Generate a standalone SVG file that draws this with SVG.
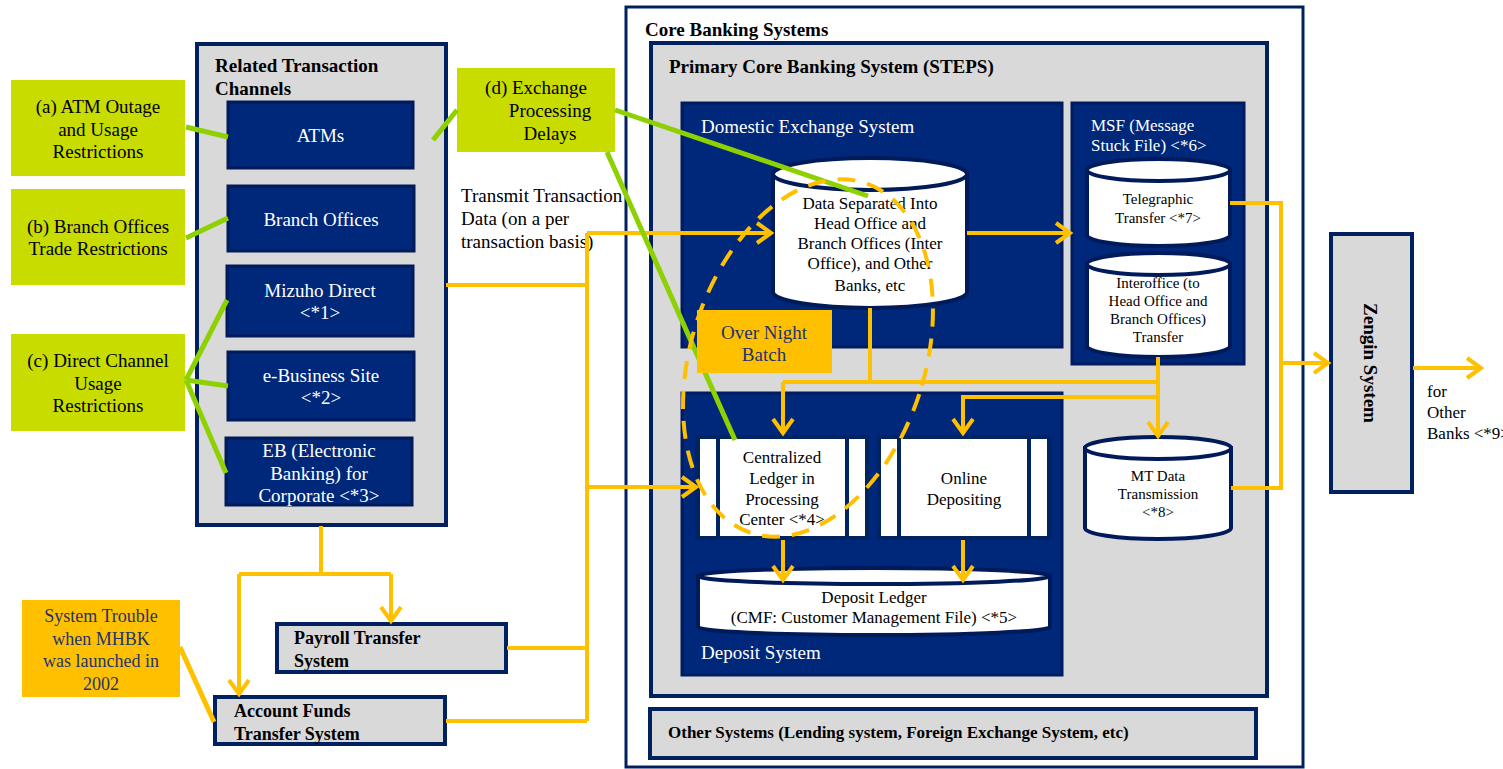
<svg xmlns="http://www.w3.org/2000/svg" width="1503" height="769" viewBox="0 0 1503 769">
<defs>
<style>
text{font-family:"Liberation Serif","Times New Roman",serif;}
.w{fill:#fff;}
.k{fill:#000;}
.nv{fill:#1f3470;}
.b{font-weight:bold;}
.f19{font-size:19px;}
.f18{font-size:18px;}
.f17{font-size:17px;}
.f16{font-size:16px;}
.f15{font-size:15px;}
.m{text-anchor:middle;}
.gbox{fill:#d9d9d9;stroke:#002060;stroke-width:4;}
.nbox{fill:#00287a;stroke:#001a5a;stroke-width:3;}
.dbox{fill:#00287a;stroke:#001c5e;stroke-width:3;}
.call{fill:#c8dc00;}
.obox{fill:#ffc000;}
.cyl{fill:#fff;stroke:#001a5a;stroke-width:4;}
.frame{fill:#00245f;}
.or{fill:none;stroke:#ffc000;stroke-width:4;}
.arr{marker-end:url(#ah);}
.gr{fill:none;stroke:#8dd100;stroke-width:5;}
</style>
<marker id="ah" markerUnits="userSpaceOnUse" viewBox="-18 -13 22 26" refX="0" refY="0" markerWidth="22" markerHeight="26" orient="auto" overflow="visible">
<path d="M-14,-10 L0,0 L-14,10" fill="none" stroke="#ffc000" stroke-width="4"/>
</marker>
</defs>
<rect width="1503" height="769" fill="#fff"/>

<!-- Core Banking Systems -->
<g id="core-banking">
<rect x="626" y="7" width="677" height="760" fill="#fff" stroke="#002060" stroke-width="3"/>
<text x="645" y="36" class="k b f19">Core Banking Systems</text>
</g>
<g id="primary-steps">
<rect x="651" y="43" width="616" height="653" class="gbox"/>
<text x="669" y="73" class="k b f19">Primary Core Banking System (STEPS)</text>
</g>
<g id="domestic-exchange">
<rect x="682" y="103" width="380" height="244" class="dbox"/>
<text x="701" y="133" class="w f19">Domestic Exchange System</text>
</g>
<g id="msf">
<rect x="1072" y="103" width="172" height="261" class="dbox"/>
<text x="1091" y="131" class="w f17">MSF (Message</text>
<text x="1091" y="151" class="w f17">Stuck File) &lt;*6&gt;</text>
</g>
<g id="deposit-system">
<rect x="682" y="393" width="380" height="282" class="dbox"/>
<text x="701" y="659" class="w f19">Deposit System</text>
</g>
<g id="other-systems">
<rect x="650" y="709" width="606" height="49" class="gbox"/>
<text x="668" y="738" class="k b f17">Other Systems (Lending system, Foreign Exchange System, etc)</text>
</g>

<!-- Related Transaction Channels -->
<g id="channels">
<rect x="197" y="44" width="249" height="481" class="gbox"/>
<text x="215" y="72" class="k b f19">Related Transaction</text>
<text x="215" y="95" class="k b f19">Channels</text>
</g>
<g id="atms">
<rect x="228" y="102" width="185" height="66" class="nbox"/>
<text x="320.5" y="142" class="w f19 m">ATMs</text>
</g>
<g id="branch-offices">
<rect x="228" y="186" width="186" height="65" class="nbox"/>
<text x="321" y="226" class="w f19 m">Branch Offices</text>
</g>
<g id="mizuho-direct">
<rect x="227" y="266" width="186" height="70" class="nbox"/>
<text x="320" y="297" class="w f19 m">Mizuho Direct</text>
<text x="320" y="319" class="w f19 m">&lt;*1&gt;</text>
</g>
<g id="e-business">
<rect x="228" y="352" width="186" height="68" class="nbox"/>
<text x="321" y="382" class="w f19 m">e-Business Site</text>
<text x="321" y="404" class="w f19 m">&lt;*2&gt;</text>
</g>
<g id="eb">
<rect x="226" y="438" width="186" height="67" class="nbox"/>
<text x="319" y="457" class="w f19 m">EB (Electronic</text>
<text x="319" y="480" class="w f19 m">Banking) for</text>
<text x="319" y="502" class="w f19 m">Corporate &lt;*3&gt;</text>
</g>

<!-- Payroll / Account Funds -->
<g id="payroll">
<rect x="277" y="624" width="229" height="48" class="gbox"/>
<text x="294" y="644" class="k b f18">Payroll Transfer</text>
<text x="294" y="667" class="k b f18">System</text>
</g>
<g id="account-funds">
<rect x="215" y="697" width="230" height="47" class="gbox"/>
<text x="234" y="717" class="k b f18">Account Funds</text>
<text x="234" y="740" class="k b f18">Transfer System</text>
</g>

<!-- Zengin -->
<g id="zengin">
<rect x="1331" y="234" width="81" height="258" class="gbox"/>
<text transform="translate(1370,363) rotate(90)" dy="6" class="k b f19 m">Zengin System</text>
</g>
<g id="other-banks-label">
<text x="1427" y="397" class="k f17">for</text>
<text x="1427" y="418" class="k f17">Other</text>
<text x="1427" y="439" class="k f17">Banks &lt;*9&gt;</text>
</g>

<!-- Cylinders -->
<g id="data-separated">
<path d="M773,174 V292 A97,16 0 0 0 967,292 V174 Z" class="cyl"/>
<ellipse cx="870" cy="174" rx="97" ry="16" class="cyl"/>
<text x="870" y="209" class="k f17 m">Data Separated Into</text>
<text x="870" y="229" class="k f17 m">Head Office and</text>
<text x="870" y="249" class="k f17 m">Branch Offices (Inter</text>
<text x="870" y="269" class="k f17 m">Office), and Other</text>
<text x="870" y="291" class="k f17 m">Banks, etc</text>
</g>
<g id="telegraphic">
<path d="M1087,170 V235 A71.5,11 0 0 0 1230,235 V170 Z" class="cyl"/>
<ellipse cx="1158.5" cy="170" rx="71.5" ry="11" class="cyl"/>
<text x="1158" y="204" class="k f15 m">Telegraphic</text>
<text x="1158" y="223" class="k f15 m">Transfer &lt;*7&gt;</text>
</g>
<g id="interoffice">
<path d="M1087,264 V346 A71.5,11 0 0 0 1230,346 V264 Z" class="cyl"/>
<ellipse cx="1158.5" cy="264" rx="71.5" ry="11" class="cyl"/>
<text x="1158" y="288" class="k f15 m">Interoffice (to</text>
<text x="1158" y="306" class="k f15 m">Head Office and</text>
<text x="1158" y="324" class="k f15 m">Branch Offices)</text>
<text x="1158" y="342" class="k f15 m">Transfer</text>
</g>
<g id="mt-data">
<path d="M1085,448 V528 A73,11 0 0 0 1231,528 V448 Z" class="cyl"/>
<ellipse cx="1158" cy="448" rx="73" ry="11" class="cyl"/>
<text x="1158" y="481" class="k f15 m">MT Data</text>
<text x="1158" y="499" class="k f15 m">Transmission</text>
<text x="1158" y="517" class="k f15 m">&lt;*8&gt;</text>
</g>
<g id="deposit-ledger">
<path d="M698,576 V627 A176,8 0 0 0 1050,627 V576 Z" class="cyl"/>
<ellipse cx="874" cy="576" rx="176" ry="8" class="cyl"/>
<text x="874" y="603" class="k f17 m">Deposit Ledger</text>
<text x="874" y="623" class="k f17 m">(CMF: Customer Management File) &lt;*5&gt;</text>
</g>

<!-- Ledger boxes -->
<g id="centralized-ledger">
<rect x="695" y="435" width="174" height="105" class="frame"/>
<rect x="700" y="439" width="16" height="97" fill="#fff"/>
<rect x="720" y="439" width="125" height="97" fill="#fff"/>
<rect x="849" y="439" width="16" height="97" fill="#fff"/>
<text x="782" y="463" class="k f17 m">Centralized</text>
<text x="782" y="484" class="k f17 m">Ledger in</text>
<text x="782" y="505" class="k f17 m">Processing</text>
<text x="782" y="525" class="k f17 m">Center &lt;*4&gt;</text>
</g>
<g id="online-depositing">
<rect x="877" y="435" width="175" height="105" class="frame"/>
<rect x="881" y="439" width="16" height="97" fill="#fff"/>
<rect x="901" y="439" width="126" height="97" fill="#fff"/>
<rect x="1031" y="439" width="16" height="97" fill="#fff"/>
<text x="964" y="484" class="k f17 m">Online</text>
<text x="964" y="505" class="k f17 m">Depositing</text>
</g>

<!-- Callouts -->
<g id="callout-a">
<rect x="11" y="80" width="174" height="96" class="call"/>
<text x="98" y="113" class="k f19 m">(a) ATM Outage</text>
<text x="98" y="136" class="k f19 m">and Usage</text>
<text x="98" y="158" class="k f19 m">Restrictions</text>
</g>
<g id="callout-b">
<rect x="11" y="189" width="174" height="96" class="call"/>
<text x="98" y="233" class="k f19 m">(b) Branch Offices</text>
<text x="98" y="255" class="k f19 m">Trade Restrictions</text>
</g>
<g id="callout-c">
<rect x="11" y="334" width="174" height="97" class="call"/>
<text x="98" y="367" class="k f19 m">(c) Direct Channel</text>
<text x="98" y="390" class="k f19 m">Usage</text>
<text x="98" y="412" class="k f19 m">Restrictions</text>
</g>
<g id="callout-d">
<rect x="457" y="68" width="158" height="84" class="call"/>
<text x="536" y="94" class="k f19 m">(d) Exchange</text>
<text x="550" y="117" class="k f19 m">Processing</text>
<text x="550" y="140" class="k f19 m">Delays</text>
</g>
<g id="system-trouble">
<rect x="22" y="600" width="158" height="97" class="obox"/>
<text x="101" y="622" class="nv f18 m">System Trouble</text>
<text x="101" y="645" class="nv f18 m">when MHBK</text>
<text x="101" y="667" class="nv f18 m">was launched in</text>
<text x="101" y="690" class="nv f18 m">2002</text>
</g>
<g id="transmit-label">
<text x="461" y="202" class="k f19">Transmit Transaction</text>
<text x="461" y="225" class="k f19">Data (on a per</text>
<text x="461" y="248" class="k f19">transaction basis)</text>
</g>

<!-- Connectors -->
<g id="connectors">
<path d="M446,285 H587" class="or"/>
<path d="M587,233 V721" class="or"/>
<path d="M587,233 H771" class="or arr"/>
<path d="M587,487 H696" class="or arr"/>
<path d="M507,648 H587" class="or"/>
<path d="M446,721 H587" class="or"/>
<path d="M321,526 V574" class="or"/>
<path d="M239,574 H391" class="or"/>
<path d="M391,574 V621" class="or arr"/>
<path d="M239,574 V694" class="or arr"/>
<path d="M967,233 H1070" class="or arr"/>
<path d="M870,308 V382" class="or"/>
<path d="M783,382 H1158" class="or"/>
<path d="M783,382 V433" class="or arr"/>
<path d="M1158,357 V436" class="or arr"/>
<path d="M1158,397 H963 V433" class="or arr"/>
<path d="M783,540 V580" class="or arr"/>
<path d="M963,540 V580" class="or arr"/>
<path d="M1230,203 H1281 V488 H1231" class="or"/>
<path d="M1281,363 H1328" class="or arr"/>
<path d="M1413,368 H1481" class="or arr"/>
<path d="M180,647 L214,722" fill="none" stroke="#ffc000" stroke-width="5"/>
<path d="M186,127 L228,137" class="gr"/>
<path d="M186,238 L228,218" class="gr"/>
<path d="M186,380 L227,300" class="gr"/>
<path d="M186,380 L228,386" class="gr"/>
<path d="M186,380 L226,473" class="gr"/>
<path d="M433,140 L457,110" class="gr"/>
<path d="M615,110 L868,196" class="gr"/>
<path d="M607,152 L735,440" class="gr"/>
</g>

<!-- Over Night Batch -->
<g id="over-night-batch">
<ellipse cx="808" cy="358" rx="117" ry="184" transform="rotate(18 808 358)" fill="none" stroke="#ffc000" stroke-width="4" stroke-dasharray="18 12"/>
<rect x="697" y="310" width="135" height="63" class="obox"/>
<text x="764" y="339" class="nv f19 m">Over Night</text>
<text x="764" y="361" class="nv f19 m">Batch</text>
</g>
</svg>
